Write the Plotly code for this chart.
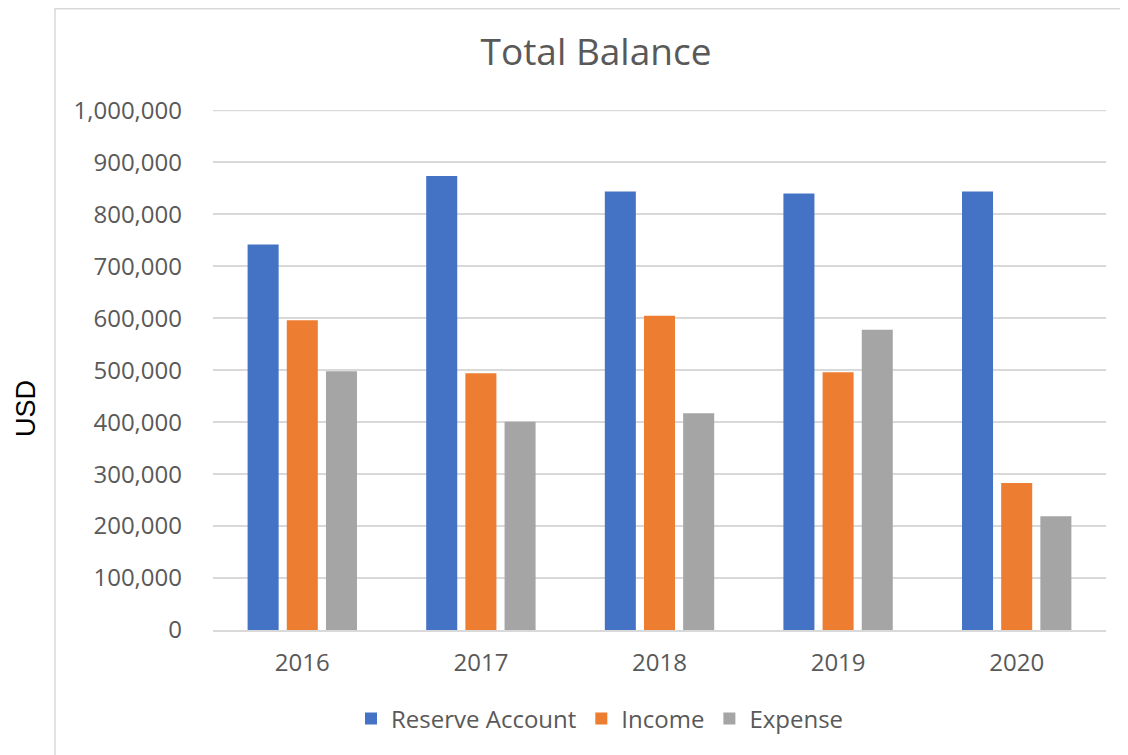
import plotly.graph_objects as go

years = ["2016", "2017", "2018", "2019", "2020"]
reserve = [742000, 874000, 844000, 840000, 844000]
income = [596000, 494000, 605000, 496000, 283000]
expense = [498000, 401000, 417000, 578000, 219000]
tick_vals = [0, 100000, 200000, 300000, 400000, 500000, 600000, 700000, 800000, 900000, 1000000]
tick_text = ["0", "100,000", "200,000", "300,000", "400,000", "500,000", "600,000",
             "700,000", "800,000", "900,000", "1,000,000"]
y_max = 1000000

OFF = 8  # page body margin
W, H = 1128 - OFF, 755 - OFF
L, R, T, B = 213 - OFF, 1106 - OFF, 110 - OFF, 630 - OFF

fig = go.Figure()
for name, vals, col in [("Reserve Account", reserve, "#4472C4"),
                        ("Income", income, "#ED7D31"),
                        ("Expense", expense, "#A5A5A5")]:
    fig.add_trace(go.Bar(x=years, y=vals, name=name, marker=dict(color=col, line=dict(width=0))))

pw = R - L
ph = B - T
fig.update_layout(
    width=W, height=H,
    margin=dict(l=L, r=W - R, t=T, b=H - B, pad=0),
    paper_bgcolor="white", plot_bgcolor="white",
    barmode="group", bargap=0.342, bargroupgap=0.208,
    font=dict(family="Open Sans", color="#595959", size=24),
    title=dict(text="Total Balance", x=(596 - OFF) / W, xref="container", xanchor="center",
               y=1 - (52 - OFF) / H, yref="container", yanchor="middle",
               font=dict(family="Open Sans", size=37, color="#595959")),
    xaxis=dict(showgrid=False, showline=True, linecolor="#d9d9d9", linewidth=1.5,
               ticks="", ticklabelstandoff=10, tickfont=dict(size=24, color="#595959")),
    yaxis=dict(range=[0, y_max * 1.0008], tickvals=tick_vals, ticktext=tick_text,
               showgrid=True, gridcolor="#d9d9d9", gridwidth=1.5, zeroline=False,
               showline=False, ticks="", ticklabelstandoff=30,
               tickfont=dict(size=24, color="#595959")),
    legend=dict(orientation="h", x=(600 - OFF) / W, xref="container", xanchor="center",
                y=1 - (719 - OFF) / H, yref="container", yanchor="middle",
                font=dict(size=24, color="#595959"), itemclick=False, traceorder="normal"),
    annotations=[dict(text="USD", textangle=-90, showarrow=False,
                      xref="paper", yref="paper",
                      x=(26 - OFF - L) / pw, y=(B - (409 - OFF)) / ph,
                      xanchor="center", yanchor="middle",
                      font=dict(family="Liberation Sans", size=27, color="black"))],
    shapes=[
        dict(type="line", xref="paper", yref="y", x0=0, x1=1, y0=y_max, y1=y_max,
             line=dict(color="#d9d9d9", width=1.5), layer="below"),
        dict(type="rect", xref="paper", yref="paper",
             x0=(55 - OFF - L) / pw, x1=(1140 - L) / pw,
             y0=(B - 770) / ph, y1=(B - 0.8) / ph,
             line=dict(color="#d9d9d9", width=1.5), fillcolor="rgba(0,0,0,0)", layer="below"),
    ],
)
fig.write_html("out.html")
